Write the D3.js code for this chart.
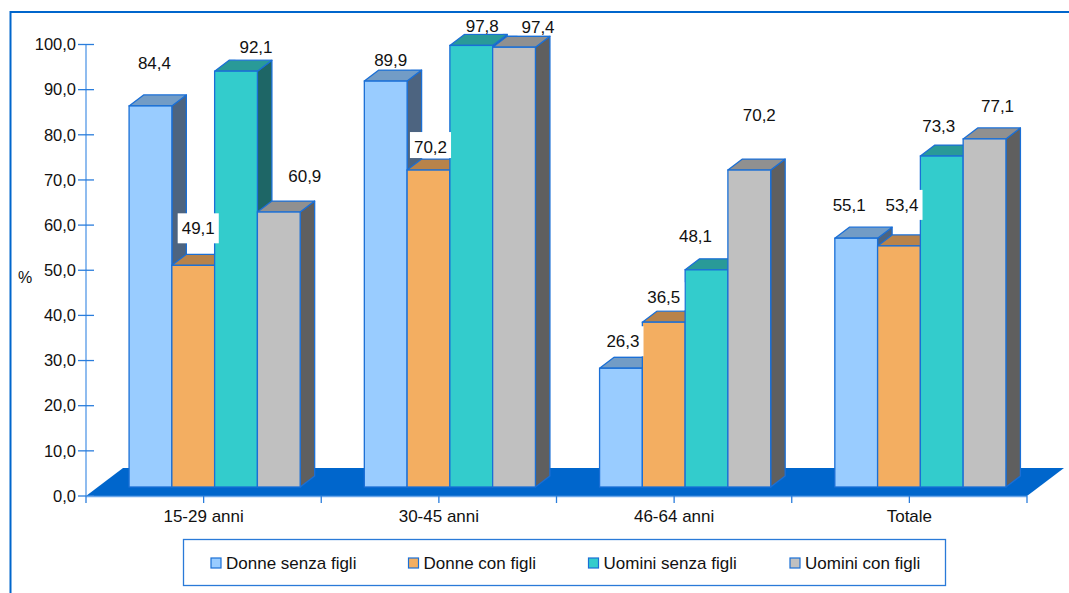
<!DOCTYPE html>
<html>
<head>
<meta charset="utf-8">
<script src="https://cdn.jsdelivr.net/npm/d3@7/dist/d3.min.js"></script>
<style>
  html, body { margin: 0; padding: 0; background: #ffffff; }
  svg { display: block; font-family: "Liberation Sans", Arial, sans-serif; }
</style>
</head>
<body>
<svg id="chart" width="1069" height="593"></svg>
<script>
// ---- data ----
const categories = ["15-29 anni", "30-45 anni", "46-64 anni", "Totale"];
const seriesNames = ["Donne senza figli", "Donne con figli", "Uomini senza figli", "Uomini con figli"];
const donneSenzaFigli = [84.4, 89.9, 26.3, 55.1];
const donneConFigli   = [49.1, 70.2, 36.5, 53.4];
const uominiSenzaFigli = [92.1, 97.8, 48.1, 73.3];
const uominiConFigli  = [60.9, 97.4, 70.2, 77.1];
const yTicks = [0, 10, 20, 30, 40, 50, 60, 70, 80, 90, 100];

const seriesValues = [donneSenzaFigli, donneConFigli, uominiSenzaFigli, uominiConFigli];

// ---- styling ----
const palette = [
  { front: "#99ccff", top: "#729cc6", side: "#4d6480" },
  { front: "#f3ae61", top: "#b8834a", side: "#7a5732" },
  { front: "#33cccc", top: "#299a98", side: "#1e6666" },
  { front: "#c0c0c0", top: "#909090", side: "#5f5f5f" }
];
const edge = "#1a6fd6";
const floorColor = "#0066cc";

// label nudges (px) relative to the top-front centre of each bar: [dx, dy] per category, per series
const labelNudge = [
  [[4, -43], [5, -37], [20, -24], [26, -36]],
  [[5, -21], [2, -23], [11, -19], [24, -20]],
  [[2, -27], [0, -25], [-11, -34], [10, -55]],
  [[-7, -33], [3, -41], [-3, -30], [13, -33]]
];

const svg = d3.select("#chart");
const fmt = v => d3.format(".1f")(v).replace(".", ",");

// plot frame geometry
const x0 = 86, x1 = 1027;
const y = d3.scaleLinear().domain([0, 100]).range([496, 44.5]);
const floorDepth = { dx: 37, dy: 28 };
const barShift = { dx: 11, dy: 9 };    // bars sit part-way back on the floor
const barDepth = { dx: 14.5, dy: 11 };

const xCat = d3.scaleBand().domain(categories).range([x0, x1]).padding(0);
const xSer = d3.scaleBand().domain(seriesNames).range([0, xCat.bandwidth()])
  .paddingInner(0).paddingOuter(0.75);

// floor
const fb = y(0);
svg.append("path")
  .attr("d", `M${x0},${fb} L${x0 + floorDepth.dx},${fb - floorDepth.dy} L${x1 + floorDepth.dx},${fb - floorDepth.dy} L${x1},${fb} Z`)
  .attr("fill", floorColor);

// y axis
svg.append("line")
  .attr("x1", x0).attr("x2", x0).attr("y1", y(100)).attr("y2", y(0))
  .attr("stroke", "#6aa6ea").attr("stroke-width", 1.5);
const yt = svg.append("g");
yt.selectAll("line").data(yTicks).join("line")
  .attr("x1", x0 - 8).attr("x2", x0 + 8)
  .attr("y1", d => y(d)).attr("y2", d => y(d))
  .attr("stroke", "#2a7ddc").attr("stroke-width", 1.3);
yt.selectAll("text").data(yTicks).join("text")
  .attr("x", 76).attr("y", d => y(d)).attr("dy", "0.35em")
  .attr("text-anchor", "end").attr("font-size", 16.5).attr("fill", "#111")
  .text(d => fmt(d));

svg.append("text").attr("x", 25).attr("y", 277).attr("dy", "0.35em")
  .attr("text-anchor", "middle").attr("font-size", 16).attr("fill", "#111").text("%");

// x axis
svg.append("line")
  .attr("x1", x0).attr("x2", x1).attr("y1", fb + 0.5).attr("y2", fb + 0.5)
  .attr("stroke", "#6aa6ea").attr("stroke-width", 1.3);
const xTickPos = [];
categories.forEach(c => { xTickPos.push(xCat(c)); xTickPos.push(xCat(c) + xCat.bandwidth() / 2); });
xTickPos.push(x1);
svg.append("g").selectAll("line").data(xTickPos).join("line")
  .attr("x1", d => d).attr("x2", d => d).attr("y1", fb).attr("y2", fb + 7)
  .attr("stroke", "#2a7ddc").attr("stroke-width", 1.3);
svg.append("g").selectAll("text").data(categories).join("text")
  .attr("x", d => xCat(d) + xCat.bandwidth() / 2).attr("y", 522)
  .attr("text-anchor", "middle").attr("font-size", 17).attr("fill", "#111")
  .text(d => d);

// bars
const bars = [];
categories.forEach((c, ci) => {
  seriesNames.forEach((s, si) => {
    const v = seriesValues[si][ci];
    const xl = xCat(c) + barShift.dx + xSer(s);
    const xr = xl + xSer.bandwidth();
    const yb = y(0) - barShift.dy;
    const yt = y(v) - barShift.dy;
    bars.push({ ci, si, v, xl, xr, yb, yt });
  });
});

const gBars = svg.append("g");
bars.forEach(b => {
  const g = gBars.append("g");
  const dx = barDepth.dx, dy = barDepth.dy;
  const col = palette[b.si];
  g.append("path")
    .attr("d", `M${b.xr},${b.yt} L${b.xr + dx},${b.yt - dy} L${b.xr + dx},${b.yb - dy} L${b.xr},${b.yb} Z`)
    .attr("fill", col.side).attr("stroke", edge).attr("stroke-width", 1.3).attr("stroke-linejoin", "round");
  g.append("path")
    .attr("d", `M${b.xl},${b.yt} L${b.xl + dx},${b.yt - dy} L${b.xr + dx},${b.yt - dy} L${b.xr},${b.yt} Z`)
    .attr("fill", col.top).attr("stroke", edge).attr("stroke-width", 1.3).attr("stroke-linejoin", "round");
  g.append("rect")
    .attr("x", b.xl).attr("y", b.yt).attr("width", b.xr - b.xl).attr("height", b.yb - b.yt)
    .attr("fill", col.front).attr("stroke", edge).attr("stroke-width", 1.3);
});

// value labels on white boxes (a box never reaches below its own bar's top face)
const gLab = svg.append("g");
bars.forEach(b => {
  const n = labelNudge[b.ci][b.si];
  const cx = (b.xl + b.xr) / 2 + n[0];
  const cy = b.yt + n[1];
  const t = gLab.append("text")
    .attr("x", cx).attr("y", cy).attr("dy", "0.35em")
    .attr("text-anchor", "middle").attr("font-size", 17).attr("fill", "#111")
    .text(fmt(b.v));
  const w = t.node().getComputedTextLength();
  const top = cy - 15;
  const bottom = Math.min(cy + 15, b.yt - barDepth.dy - 1);
  gLab.insert("rect", () => t.node())
    .attr("x", cx - w / 2 - 4).attr("y", top).attr("width", w + 8).attr("height", Math.max(0, bottom - top))
    .attr("fill", "#ffffff");
});

// legend
const leg = svg.append("g");
leg.append("rect").attr("x", 183.5).attr("y", 539.5).attr("width", 762).attr("height", 46)
  .attr("fill", "#ffffff").attr("stroke", "#2a7ad8").attr("stroke-width", 1.3);
const legX = [211, 408.5, 588.5, 790];
seriesNames.forEach((s, i) => {
  leg.append("rect").attr("x", legX[i]).attr("y", 558).attr("width", 10).attr("height", 10)
    .attr("fill", palette[i].front).attr("stroke", edge).attr("stroke-width", 1.2);
  leg.append("text").attr("x", legX[i] + 15).attr("y", 569)
    .attr("font-size", 17).attr("fill", "#111").text(s);
});

// outer border, on top of everything
svg.append("rect")
  .attr("x", 10.5).attr("y", 12).attr("width", 1200).attr("height", 800)
  .attr("fill", "none").attr("stroke", floorColor).attr("stroke-width", 2);
</script>
</body>
</html>
